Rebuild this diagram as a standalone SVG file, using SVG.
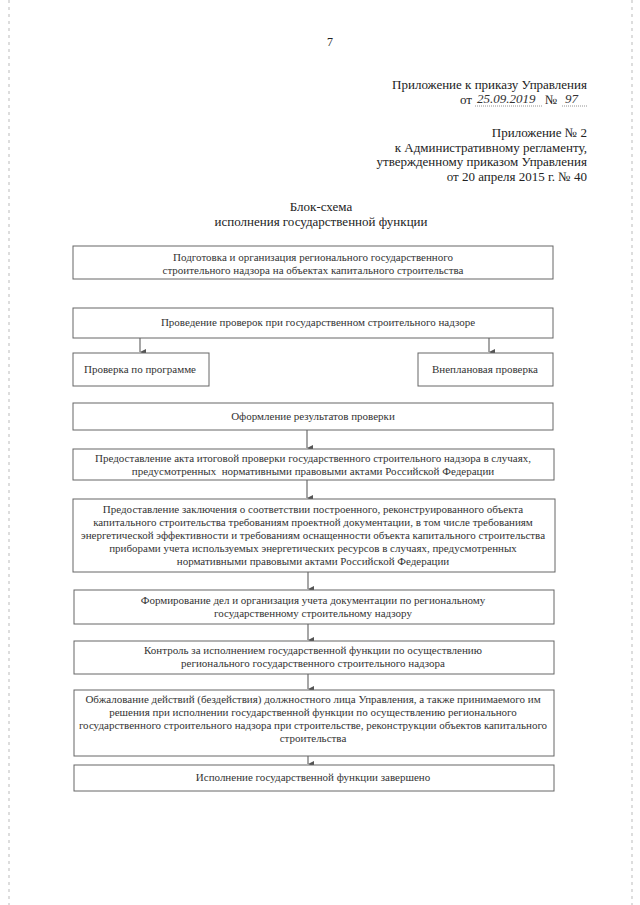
<svg xmlns="http://www.w3.org/2000/svg" width="640" height="905" viewBox="0 0 640 905">
<defs>
<marker id="ah" markerWidth="8" markerHeight="8" refX="4" refY="7" orient="auto" markerUnits="userSpaceOnUse">
<path d="M1,1 L4,7 L7,1 Z" fill="#555"/>
</marker>
</defs>
<style>
.bg{fill:#ffffff}
.box{fill:#ffffff;stroke:#666;stroke-width:1}
.t{font-family:"Liberation Serif","Times New Roman",serif;font-size:11px;fill:#333;text-anchor:middle}
.h{font-family:"Liberation Serif","Times New Roman",serif;font-size:13px;fill:#222}
.r{text-anchor:end}
.c{text-anchor:middle}
.hw{font-family:"Liberation Serif","Times New Roman",serif;font-style:italic;font-size:13px;fill:#333}
.con{stroke:#777;stroke-width:1.3;fill:none}
.edge{stroke:#bbb;stroke-width:1;stroke-dasharray:3 4;fill:none}
</style>
<rect class="bg" x="0" y="0" width="640" height="905"/>
<g id="scan-edges">
<line class="edge" x1="9" y1="0" x2="9" y2="905"/>
<line class="edge" x1="632" y1="0" x2="632" y2="905"/>
</g>
<g id="header">
<text class="h c" x="330" y="46" style="font-size:12px">7</text>
<text class="h r" x="587" y="89">Приложение к приказу Управления</text>
<text class="h" x="460" y="104">от</text>
<text class="hw" x="477" y="103">25.09.2019</text>
<line x1="475" y1="106" x2="543" y2="106" stroke="#777" stroke-width="0.8" stroke-dasharray="1 1"/>
<text class="h" x="545" y="104">№</text>
<text class="hw" x="565" y="103">97</text>
<line x1="562" y1="106" x2="587" y2="106" stroke="#777" stroke-width="0.8" stroke-dasharray="1 1"/>
<text class="h r" x="587" y="137">Приложение № 2</text>
<text class="h r" x="587" y="152">к Административному регламенту,</text>
<text class="h r" x="587" y="166">утвержденному приказом Управления</text>
<text class="h r" x="587" y="181">от 20 апреля 2015 г. № 40</text>
<text class="h c" x="321" y="211">Блок-схема</text>
<text class="h c" x="321" y="226">исполнения государственной функции</text>
</g>
<g id="connectors">
<line class="con" x1="140" y1="338" x2="140" y2="352" marker-end="url(#ah)"/>
<line class="con" x1="489" y1="338" x2="489" y2="352" marker-end="url(#ah)"/>
<line class="con" x1="307" y1="430" x2="307" y2="448" marker-end="url(#ah)"/>
<line class="con" x1="307" y1="480" x2="307" y2="498" marker-end="url(#ah)"/>
<line class="con" x1="308" y1="572" x2="308" y2="589" marker-end="url(#ah)"/>
<line class="con" x1="308" y1="624" x2="308" y2="640" marker-end="url(#ah)"/>
<line class="con" x1="308" y1="674" x2="308" y2="689" marker-end="url(#ah)"/>
<line class="con" x1="308" y1="756" x2="308" y2="764" marker-end="url(#ah)"/>
</g>
<g id="n1">
<rect class="box" x="73" y="246" width="480" height="33"/>
<text class="t" x="313" y="261">Подготовка и организация регионального государственного</text>
<text class="t" x="313" y="274">строительного надзора на объектах капитального строительства</text>
</g>
<g id="n2">
<rect class="box" x="73" y="308" width="480" height="30"/>
<text class="t" x="318" y="326">Проведение проверок при государственном строительного надзоре</text>
</g>
<g id="n3">
<rect class="box" x="73" y="353" width="136" height="33"/>
<text class="t" x="140" y="373">Проверка по программе</text>
</g>
<g id="n4">
<rect class="box" x="418" y="353" width="135" height="33"/>
<text class="t" x="485" y="373">Внеплановая проверка</text>
</g>
<g id="n5">
<rect class="box" x="73" y="403" width="480" height="27"/>
<text class="t" x="313" y="420">Оформление результатов проверки</text>
</g>
<g id="n6">
<rect class="box" x="73" y="449" width="481" height="31"/>
<text class="t" x="313" y="462">Предоставление акта итоговой проверки государственного строительного надзора в случаях,</text>
<text class="t" x="313" y="475" style="white-space:pre">предусмотренных  нормативными правовыми актами Российской Федерации</text>
</g>
<g id="n7">
<rect class="box" x="73" y="499" width="482" height="73"/>
<text class="t" x="313" y="513">Предоставление заключения о соответствии построенного, реконструированного объекта</text>
<text class="t" x="313" y="526">капитального строительства требованиям проектной документации, в том числе требованиям</text>
<text class="t" x="313" y="539">энергетической эффективности и требованиям оснащенности объекта капитального строительства</text>
<text class="t" x="313" y="552">приборами учета используемых энергетических ресурсов в случаях, предусмотренных</text>
<text class="t" x="313" y="565">нормативными правовыми актами Российской Федерации</text>
</g>
<g id="n8">
<rect class="box" x="74" y="590" width="480" height="34"/>
<text class="t" x="313" y="604">Формирование дел и организация учета документации по региональному</text>
<text class="t" x="313" y="617">государственному строительному надзору</text>
</g>
<g id="n9">
<rect class="box" x="74" y="641" width="480" height="33"/>
<text class="t" x="313" y="654">Контроль за исполнением государственной функции по осуществлению</text>
<text class="t" x="313" y="667">регионального государственного строительного надзора</text>
</g>
<g id="n10">
<rect class="box" x="74" y="690" width="480" height="66"/>
<text class="t" x="313" y="703">Обжалование действий (бездействия) должностного лица Управления, а также принимаемого им</text>
<text class="t" x="313" y="716">решения при исполнении государственной функции по осуществлению регионального</text>
<text class="t" x="313" y="729">государственного строительного надзора при строительстве, реконструкции объектов капитального</text>
<text class="t" x="313" y="742">строительства</text>
</g>
<g id="n11">
<rect class="box" x="74" y="765" width="480" height="26"/>
<text class="t" x="313" y="781">Исполнение государственной функции завершено</text>
</g>
</svg>
